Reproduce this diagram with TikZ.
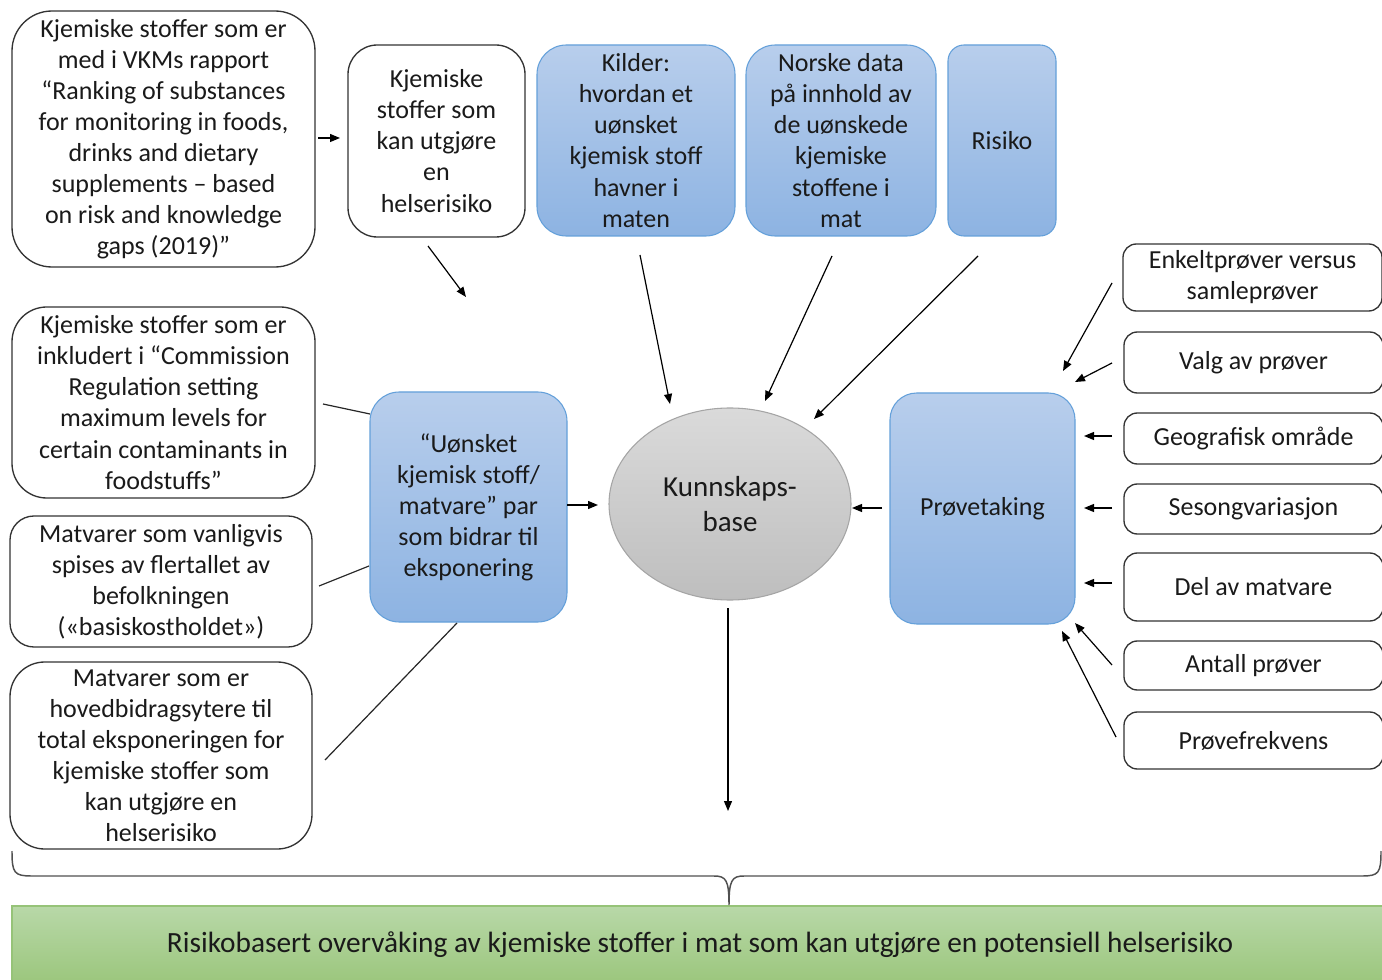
\documentclass[tikz,border=0pt]{standalone}
\usepackage{fontspec}
\setmainfont{Carlito}
\usetikzlibrary{arrows.meta,shapes.geometric}
\definecolor{txt}{RGB}{26,26,26}
\definecolor{bluetop}{RGB}{184,206,236}
\definecolor{bluebot}{RGB}{141,179,226}
\definecolor{blueedge}{RGB}{100,160,218}
\definecolor{graytop}{RGB}{218,218,218}
\definecolor{graybot}{RGB}{190,190,190}
\definecolor{grayedge}{RGB}{165,165,165}
\definecolor{greentop}{RGB}{184,216,168}
\definecolor{greenbot}{RGB}{155,198,124}
\definecolor{greenedge}{RGB}{150,195,120}
\definecolor{bracecol}{RGB}{80,80,80}
\tikzset{
  base/.style={inner sep=0pt, align=center, text=txt, font=\fontsize{19.5}{23.3}\selectfont},
  wbox/.style={base, draw=black!80, line width=1pt, fill=white, rounded corners=26pt},
  rbox/.style={base, draw=black!80, line width=1pt, fill=white, rounded corners=10pt, minimum width=194.25pt},
  bbox/.style={base, draw=blueedge, line width=0.8pt, top color=bluetop, bottom color=bluebot, rounded corners=22pt},
  arr/.style={draw=black, line width=0.9pt, -{Triangle[length=7.5pt,width=6pt]}},
  ln/.style={draw=black!85, line width=0.9pt},
}
\begin{document}
\begin{tikzpicture}[x=0.75pt,y=-0.75pt]
\clip (0,0) rectangle (1382,980);
\fill[white] (0,0) rectangle (1382,980);

% left column
\node[wbox, rounded corners=30pt, minimum width=227.25pt, minimum height=192pt] (A1) at (163.5,139)
  {Kjemiske stoffer som er\\ med i VKMs rapport\\ “Ranking of substances\\ for monitoring in foods,\\ drinks and dietary\\ supplements – based\\ on risk and knowledge\\ gaps (2019)”};
\node[wbox, rounded corners=22pt, minimum width=132.75pt, minimum height=144pt] (A2) at (436.5,141)
  {Kjemiske\\ stoffer som\\ kan utgjøre\\ en\\ helserisiko};
\node[wbox, minimum width=227.25pt, minimum height=143.25pt] (L1) at (163.5,402.5)
  {Kjemiske stoffer som er\\ inkludert i “Commission\\ Regulation setting\\ maximum levels for\\ certain contaminants in\\ foodstuffs”};
\node[wbox, rounded corners=18pt, minimum width=226.5pt, minimum height=98.25pt] (L2) at (161,581.5)
  {Matvarer som vanligvis\\ spises av flertallet av\\ befolkningen\\ («basiskostholdet»)};
\node[wbox, minimum width=226.5pt, minimum height=140.25pt] (L3) at (161,755.5)
  {Matvarer som er\\ hovedbidragsytere til\\ total eksponeringen for\\ kjemiske stoffer som\\ kan utgjøre en\\ helserisiko};

% blue boxes
\node[bbox, minimum width=148.5pt, minimum height=143.25pt] (B1) at (636,140.5)
  {Kilder:\\ hvordan et\\ uønsket\\ kjemisk stoff\\ havner i\\ maten};
\node[bbox, minimum width=142.5pt, minimum height=143.25pt] (B2) at (841,140.5)
  {Norske data\\ på innhold av\\ de uønskede\\ kjemiske\\ stoffene i\\ mat};
\node[bbox, rounded corners=12pt, minimum width=81pt, minimum height=143.25pt] (B3) at (1002,140.5)
  {Risiko};
\node[bbox, minimum width=147.75pt, minimum height=172.5pt] (U) at (468.5,507)
  {“Uønsket\\ kjemisk stoff/\\ matvare” par\\ som bidrar til\\ eksponering};
\node[bbox, rounded corners=20pt, minimum width=138.75pt, minimum height=173.25pt] (P) at (982.5,508.5)
  {Prøvetaking};

% ellipse
\node[base, ellipse, draw=grayedge, line width=0.8pt, top color=graytop, bottom color=graybot,
  minimum width=181.5pt, minimum height=144pt, font=\fontsize{21.75}{26.25}\selectfont] (K) at (730,504)
  {Kunnskaps-\\ base};

% right boxes
\node[rbox, minimum height=50.25pt] (R1) at (1252.5,277.5) {Enkeltprøver versus\\ samleprøver};
\node[rbox, minimum height=45.75pt] (R2) at (1253.5,362.5) {Valg av prøver};
\node[rbox, minimum height=38.25pt] (R3) at (1253.5,438.5) {Geografisk område};
\node[rbox, minimum height=37.5pt] (R4) at (1253.5,509) {Sesongvariasjon};
\node[rbox, minimum height=51pt] (R5) at (1253.5,587) {Del av matvare};
\node[rbox, minimum height=36.75pt] (R6) at (1253.5,665.5) {Antall prøver};
\node[rbox, minimum height=42.75pt] (R7) at (1253.5,740.5) {Prøvefrekvens};

% green bar
\node[base, draw=greenedge, line width=0.8pt, top color=greentop, bottom color=greenbot,
  minimum width=1033.5pt, minimum height=58.5pt] (G) at (701,945) {};
\node[base, font=\fontsize{22}{26}\selectfont] (GT) at (700,945)
  {Risikobasert overvåking av kjemiske stoffer i mat som kan utgjøre en potensiell helserisiko};

% free arrow ends
\coordinate (a1o) at (318,138); \coordinate (a2i) at (340,138);
\coordinate (a2o) at (428,246); \coordinate (a2e) at (466,297);
\coordinate (b1o) at (640,255); \coordinate (kb1) at (670,404);
\coordinate (b2o) at (832,256); \coordinate (kb2) at (765,401);
\coordinate (b3o) at (978,256); \coordinate (kb3) at (814,419);
\coordinate (uo) at (567,505); \coordinate (ku) at (598,505);
\coordinate (po) at (882,508); \coordinate (kp) at (852,508);
\coordinate (ko) at (728,608); \coordinate (ke) at (728,811);
\coordinate (l1o) at (323,404); \coordinate (ul1) at (370,414);
\coordinate (l2o) at (319,586); \coordinate (ul2) at (369,566);
\coordinate (l3o) at (325,760); \coordinate (ul3) at (457,623);
\coordinate (r1o) at (1112,283); \coordinate (pr1) at (1063,371);
\coordinate (r2o) at (1112,363); \coordinate (pr2) at (1075,382);
\coordinate (r3o) at (1112,436); \coordinate (pr3) at (1084,436);
\coordinate (r4o) at (1112,508); \coordinate (pr4) at (1084,508);
\coordinate (r5o) at (1112,583); \coordinate (pr5) at (1084,583);
\coordinate (r6o) at (1112,665); \coordinate (pr6) at (1075,623);
\coordinate (r7o) at (1116,737); \coordinate (pr7) at (1062,631);

\draw[arr] (a1o) -- (a2i);
\draw[arr] (a2o) -- (a2e);
\draw[arr] (b1o) -- (kb1);
\draw[arr] (b2o) -- (kb2);
\draw[arr] (b3o) -- (kb3);
\draw[arr] (uo) -- (ku);
\draw[arr] (po) -- (kp);
\draw[arr] (ko) -- (ke);
\draw[ln] (l1o) -- (ul1);
\draw[ln] (l2o) -- (ul2);
\draw[ln] (l3o) -- (ul3);
\draw[arr] (r1o) -- (pr1);
\draw[arr] (r2o) -- (pr2);
\draw[arr] (r3o) -- (pr3);
\draw[arr] (r4o) -- (pr4);
\draw[arr] (r5o) -- (pr5);
\draw[arr] (r6o) -- (pr6);
\draw[arr] (r7o) -- (pr7);

% brace
\coordinate (brl) at (12,851); \coordinate (brr) at (1381,851); \coordinate (brt) at (729,905);
\draw[bracecol, line width=1.1pt] (brl) .. controls (12,873) and (14,876) .. (32,876)
  -- (714,876) .. controls (726,876) and (729,880) .. (brt)
  .. controls (729,880) and (732,876) .. (744,876)
  -- (1362,876) .. controls (1379,876) and (1381,873) .. (brr);
\end{tikzpicture}
\end{document}
